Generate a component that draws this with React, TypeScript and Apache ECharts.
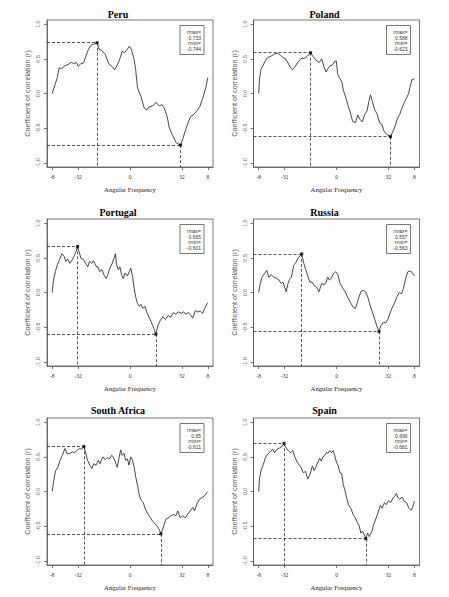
import React, { useEffect, useRef } from "react";
import * as echarts from "echarts";

// ---- data ----
const countries = ["Peru", "Poland", "Portugal", "Russia", "South Africa", "Spain"];

const xTickValues = [-3, -2, 0, 2, 3];
const xTickLabels = ["-8", "-32", "0", "32", "8"];
const yTickValues = [-1, -0.5, 0, 0.5, 1];

const peru: [number, number][] = [
  [-3.0, 0.0], [-2.87, 0.15], [-2.81, 0.22], [-2.73, 0.37], [-2.64, 0.36], [-2.51, 0.4], [-2.38, 0.42],
  [-2.27, 0.45], [-2.16, 0.43], [-2.08, 0.45], [-1.99, 0.39], [-1.9, 0.43], [-1.79, 0.44], [-1.69, 0.55],
  [-1.6, 0.64], [-1.47, 0.71], [-1.4, 0.71], [-1.27, 0.733], [-1.19, 0.64], [-1.08, 0.62], [-0.95, 0.56],
  [-0.82, 0.43], [-0.69, 0.39], [-0.6, 0.34], [-0.49, 0.41], [-0.39, 0.5], [-0.3, 0.61], [-0.21, 0.59],
  [-0.1, 0.64], [-0.03, 0.68], [0.05, 0.64], [0.16, 0.49], [0.22, 0.34], [0.29, 0.08], [0.42, -0.04],
  [0.55, -0.21], [0.65, -0.24], [0.74, -0.19], [0.87, -0.18], [1.0, -0.13], [1.13, -0.18], [1.23, -0.16],
  [1.32, -0.21], [1.43, -0.33], [1.52, -0.5], [1.65, -0.61], [1.78, -0.71], [1.95, -0.744], [2.04, -0.65],
  [2.14, -0.53], [2.23, -0.43], [2.34, -0.33], [2.43, -0.31], [2.56, -0.26], [2.69, -0.19], [2.82, -0.05],
  [2.92, 0.08], [3.0, 0.23],
];

const poland: [number, number][] = [
  [-3.0, 0.0], [-2.97, 0.21], [-2.91, 0.35], [-2.84, 0.4], [-2.75, 0.47], [-2.65, 0.52], [-2.52, 0.54],
  [-2.39, 0.57], [-2.26, 0.58], [-2.16, 0.55], [-2.06, 0.52], [-1.96, 0.5], [-1.87, 0.44], [-1.77, 0.37],
  [-1.7, 0.34], [-1.61, 0.38], [-1.51, 0.44], [-1.38, 0.5], [-1.22, 0.51], [-1.12, 0.54], [-1.0, 0.588],
  [-0.9, 0.53], [-0.77, 0.47], [-0.66, 0.45], [-0.57, 0.5], [-0.48, 0.38], [-0.4, 0.31], [-0.34, 0.35],
  [-0.25, 0.4], [-0.16, 0.41], [-0.08, 0.46], [-0.01, 0.47], [0.05, 0.27], [0.14, 0.21], [0.21, 0.16],
  [0.27, 0.04], [0.36, -0.06], [0.44, -0.17], [0.53, -0.27], [0.62, -0.4], [0.73, -0.42], [0.82, -0.31],
  [0.9, -0.37], [0.99, -0.41], [1.09, -0.3], [1.18, -0.25], [1.25, -0.11], [1.31, -0.02], [1.38, -0.11],
  [1.47, -0.23], [1.57, -0.3], [1.66, -0.42], [1.74, -0.44], [1.83, -0.54], [1.94, -0.59], [2.08, -0.623],
  [2.16, -0.56], [2.26, -0.47], [2.35, -0.36], [2.44, -0.3], [2.55, -0.18], [2.68, -0.08], [2.78, 0.0],
  [2.84, 0.1], [2.91, 0.2], [3.0, 0.21],
];

const portugal: [number, number][] = [
  [-3.0, 0.0], [-2.95, 0.18], [-2.88, 0.3], [-2.8, 0.4], [-2.71, 0.48], [-2.62, 0.56], [-2.54, 0.52],
  [-2.48, 0.45], [-2.39, 0.48], [-2.32, 0.42], [-2.23, 0.47], [-2.15, 0.53], [-2.09, 0.58], [-2.02, 0.665],
  [-1.95, 0.57], [-1.89, 0.49], [-1.8, 0.48], [-1.71, 0.42], [-1.63, 0.37], [-1.56, 0.45], [-1.47, 0.42],
  [-1.41, 0.46], [-1.31, 0.38], [-1.24, 0.37], [-1.17, 0.3], [-1.08, 0.33], [-1.0, 0.25], [-0.92, 0.2],
  [-0.84, 0.27], [-0.78, 0.35], [-0.69, 0.42], [-0.62, 0.49], [-0.56, 0.56], [-0.52, 0.4], [-0.45, 0.33],
  [-0.39, 0.37], [-0.32, 0.25], [-0.26, 0.2], [-0.19, 0.28], [-0.1, 0.24], [-0.03, 0.3], [0.03, 0.35],
  [0.1, 0.23], [0.16, 0.06], [0.23, -0.08], [0.29, -0.16], [0.36, -0.2], [0.42, -0.17], [0.49, -0.23],
  [0.58, -0.2], [0.66, -0.3], [0.75, -0.37], [0.86, -0.46], [0.92, -0.52], [1.0, -0.601], [1.08, -0.47],
  [1.17, -0.4], [1.27, -0.35], [1.37, -0.39], [1.47, -0.33], [1.56, -0.36], [1.67, -0.29], [1.77, -0.31],
  [1.86, -0.28], [1.97, -0.3], [2.06, -0.28], [2.16, -0.31], [2.25, -0.29], [2.35, -0.33], [2.42, -0.37],
  [2.52, -0.26], [2.61, -0.28], [2.71, -0.27], [2.8, -0.3], [2.88, -0.23], [2.97, -0.16], [3.0, -0.15],
];

const russia: [number, number][] = [
  [-3.0, 0.0], [-2.94, 0.13], [-2.87, 0.22], [-2.78, 0.27], [-2.69, 0.32], [-2.61, 0.22], [-2.52, 0.26],
  [-2.42, 0.22], [-2.32, 0.21], [-2.22, 0.18], [-2.13, 0.13], [-2.06, 0.15], [-2.0, 0.08], [-1.94, 0.01],
  [-1.87, 0.13], [-1.81, 0.19], [-1.74, 0.22], [-1.65, 0.39], [-1.57, 0.43], [-1.48, 0.5], [-1.4, 0.53],
  [-1.34, 0.557], [-1.26, 0.42], [-1.18, 0.32], [-1.09, 0.22], [-1.03, 0.15], [-0.94, 0.15], [-0.86, 0.1],
  [-0.77, 0.08], [-0.68, 0.01], [-0.57, 0.13], [-0.48, 0.11], [-0.4, 0.15], [-0.34, 0.22], [-0.27, 0.18],
  [-0.21, 0.2], [-0.12, 0.27], [-0.03, 0.3], [0.05, 0.26], [0.14, 0.13], [0.23, 0.07], [0.34, 0.01],
  [0.43, -0.07], [0.53, -0.14], [0.64, -0.21], [0.73, -0.23], [0.79, -0.16], [0.86, -0.07], [0.95, 0.02],
  [1.03, 0.03], [1.12, 0.01], [1.21, -0.07], [1.29, -0.18], [1.38, -0.28], [1.47, -0.38], [1.55, -0.48],
  [1.64, -0.563], [1.71, -0.48], [1.81, -0.43], [1.9, -0.44], [1.99, -0.38], [2.08, -0.28], [2.16, -0.21],
  [2.25, -0.14], [2.32, -0.07], [2.42, 0.0], [2.51, -0.02], [2.58, 0.06], [2.68, 0.22], [2.75, 0.3],
  [2.83, 0.31], [2.91, 0.29], [3.0, 0.24],
];

const southAfrica: [number, number][] = [
  [-3.0, 0.0], [-2.94, 0.16], [-2.87, 0.3], [-2.78, 0.35], [-2.7, 0.45], [-2.61, 0.52], [-2.51, 0.62],
  [-2.42, 0.54], [-2.32, 0.55], [-2.22, 0.57], [-2.13, 0.56], [-2.03, 0.6], [-1.94, 0.62], [-1.86, 0.61],
  [-1.78, 0.65], [-1.7, 0.55], [-1.64, 0.45], [-1.55, 0.38], [-1.47, 0.33], [-1.4, 0.4], [-1.31, 0.38],
  [-1.22, 0.45], [-1.16, 0.4], [-1.05, 0.5], [-0.96, 0.46], [-0.88, 0.49], [-0.79, 0.47], [-0.71, 0.52],
  [-0.64, 0.5], [-0.57, 0.43], [-0.49, 0.35], [-0.43, 0.47], [-0.36, 0.6], [-0.3, 0.52], [-0.23, 0.55],
  [-0.17, 0.45], [-0.1, 0.47], [-0.04, 0.38], [0.03, 0.5], [0.09, 0.46], [0.16, 0.35], [0.22, 0.21],
  [0.29, 0.09], [0.35, -0.04], [0.42, -0.12], [0.51, -0.16], [0.6, -0.26], [0.7, -0.33], [0.79, -0.38],
  [0.87, -0.43], [0.96, -0.46], [1.05, -0.5], [1.13, -0.55], [1.19, -0.611], [1.29, -0.51], [1.38, -0.4],
  [1.48, -0.38], [1.58, -0.35], [1.68, -0.33], [1.77, -0.35], [1.84, -0.28], [1.94, -0.38], [2.03, -0.35],
  [2.13, -0.38], [2.22, -0.33], [2.32, -0.28], [2.42, -0.23], [2.49, -0.28], [2.58, -0.18], [2.68, -0.11],
  [2.78, -0.09], [2.87, -0.06], [3.0, 0.0],
];

const spain: [number, number][] = [
  [-3.0, 0.0], [-2.97, 0.18], [-2.91, 0.3], [-2.82, 0.39], [-2.74, 0.49], [-2.65, 0.54], [-2.54, 0.58],
  [-2.45, 0.61], [-2.39, 0.56], [-2.29, 0.61], [-2.19, 0.63], [-2.1, 0.65], [-2.02, 0.696], [-1.96, 0.64],
  [-1.86, 0.59], [-1.77, 0.56], [-1.69, 0.59], [-1.6, 0.49], [-1.51, 0.42], [-1.45, 0.39], [-1.37, 0.35],
  [-1.28, 0.27], [-1.19, 0.29], [-1.11, 0.18], [-1.04, 0.23], [-0.98, 0.3], [-0.93, 0.37], [-0.86, 0.3],
  [-0.8, 0.35], [-0.72, 0.42], [-0.65, 0.48], [-0.59, 0.44], [-0.52, 0.5], [-0.46, 0.52], [-0.39, 0.56],
  [-0.33, 0.55], [-0.26, 0.59], [-0.2, 0.56], [-0.13, 0.59], [-0.07, 0.52], [0.0, 0.42], [0.07, 0.37],
  [0.13, 0.27], [0.2, 0.26], [0.26, 0.1], [0.33, 0.01], [0.39, -0.09], [0.46, -0.19], [0.55, -0.24],
  [0.64, -0.33], [0.72, -0.38], [0.81, -0.45], [0.87, -0.49], [0.94, -0.6], [1.0, -0.57], [1.07, -0.62],
  [1.13, -0.681], [1.2, -0.6], [1.26, -0.65], [1.36, -0.58], [1.43, -0.48], [1.53, -0.38], [1.62, -0.28],
  [1.69, -0.2], [1.76, -0.24], [1.85, -0.16], [1.92, -0.19], [2.01, -0.13], [2.09, -0.16], [2.18, -0.09],
  [2.24, -0.07], [2.31, -0.03], [2.37, -0.09], [2.44, -0.11], [2.53, -0.08], [2.61, -0.14], [2.7, -0.16],
  [2.79, -0.24], [2.87, -0.27], [2.93, -0.24], [3.0, -0.14],
];

const panelData = [peru, poland, portugal, russia, southAfrica, spain];

// ---- layout ----
const X_MIN = -3.2;
const X_MAX = 3.2;
const Y_MIN = -1.06;
const Y_MAX = 1.06;
const COL_LEFT = [47, 253.5];
const ROW_TOP = [20, 219, 418];
const TITLE_X = [118, 324.5];
const TITLE_Y = [14, 212.5, 410.5];
const W = 166;
const H = 147;

const SERIF = '"Liberation Serif", "DejaVu Serif", serif';
const SANS = '"Liberation Sans", Arial, sans-serif';

export default function App() {
  const ref = useRef<HTMLDivElement>(null);

  useEffect(() => {
    if (!ref.current) return;
    const chart = echarts.init(ref.current, null, { renderer: "svg" });

    const grids: any[] = [];
    const xAxes: any[] = [];
    const yAxes: any[] = [];
    const series: any[] = [];
    const graphics: any[] = [];

    panelData.forEach((pts, i) => {
      const c = i % 2;
      const r = Math.floor(i / 2);
      const left = COL_LEFT[c];
      const top = ROW_TOP[r];

      grids.push({
        left,
        top,
        width: W,
        height: H,
        show: true,
        borderColor: "#555",
        borderWidth: 0.8,
        backgroundColor: "transparent",
      });

      xAxes.push({
        gridIndex: i,
        type: "value",
        min: X_MIN,
        max: X_MAX,
        splitLine: { show: false },
        axisLine: { show: true, onZero: false, lineStyle: { color: "#555", width: 0.8 } },
        axisTick: { show: true, length: 3, customValues: xTickValues, lineStyle: { color: "#555", width: 0.8 } },
        axisLabel: {
          customValues: xTickValues,
          formatter: (v: number) => {
            const k = xTickValues.indexOf(v);
            return k >= 0 ? xTickLabels[k] : "";
          },
          fontSize: 5.5,
          fontFamily: SERIF,
          color: "#333",
          margin: 7,
        },
        name: "Angular Frequency",
        nameLocation: "middle",
        nameGap: 19,
        nameTextStyle: { fontSize: 6.7, fontFamily: SERIF, color: "#222" },
      });

      yAxes.push({
        gridIndex: i,
        type: "value",
        min: Y_MIN,
        max: Y_MAX,
        splitLine: { show: false },
        axisLine: { show: true, onZero: false, lineStyle: { color: "#555", width: 0.8 } },
        axisTick: { show: true, length: 3, customValues: yTickValues, lineStyle: { color: "#555", width: 0.8 } },
        axisLabel: {
          customValues: yTickValues,
          rotate: 90,
          formatter: (v: number) => v.toFixed(1),
          fontSize: 5.5,
          fontFamily: SANS,
          color: "#666",
          margin: 6,
        },
        name: "Coefficient of correlation (r)",
        nameLocation: "middle",
        nameGap: 16,
        nameRotate: 90,
        nameTextStyle: { fontSize: 7.2, fontFamily: SANS, color: "#555" },
      });

      let iMax = 0;
      let iMin = 0;
      pts.forEach((p, j) => {
        if (p[1] > pts[iMax][1]) iMax = j;
        if (p[1] < pts[iMin][1]) iMin = j;
      });
      const pMax = pts[iMax];
      const pMin = pts[iMin];

      series.push({
        type: "line",
        xAxisIndex: i,
        yAxisIndex: i,
        data: pts,
        symbol: "none",
        showSymbol: false,
        silent: true,
        lineStyle: { color: "#333", width: 0.9 },
        z: 2,
      });

      series.push({
        type: "scatter",
        xAxisIndex: i,
        yAxisIndex: i,
        data: [pMax, pMin],
        symbol: "rect",
        symbolSize: 3,
        silent: true,
        itemStyle: { color: "#000" },
        z: 3,
        markLine: {
          silent: true,
          symbol: ["none", "none"],
          label: { show: false },
          lineStyle: { type: [3, 2], color: "#111", width: 0.7 },
          data: [
            [{ coord: [X_MIN, pMax[1]] }, { coord: [pMax[0], pMax[1]] }],
            [{ coord: [pMax[0], pMax[1]] }, { coord: [pMax[0], Y_MIN] }],
            [{ coord: [X_MIN, pMin[1]] }, { coord: [pMin[0], pMin[1]] }],
            [{ coord: [pMin[0], pMin[1]] }, { coord: [pMin[0], Y_MIN] }],
          ],
        },
      });

      // title
      graphics.push({
        type: "text",
        x: TITLE_X[c],
        y: TITLE_Y[r],
        silent: true,
        style: {
          text: countries[i],
          font: `bold 10px ${SERIF}`,
          fill: "#000",
          textAlign: "center",
          textVerticalAlign: "middle",
        },
      });

      // legend box
      const lx = left + W - 33;
      const ly = top + 5.5;
      graphics.push({
        type: "rect",
        silent: true,
        shape: { x: lx, y: ly, width: 24, height: 29 },
        style: { fill: "#fff", stroke: "#555", lineWidth: 0.8 },
      });
      const lines = ["rmax=", String(pMax[1]), "rmin=", String(pMin[1])];
      lines.forEach((t, k) => {
        graphics.push({
          type: "text",
          silent: true,
          x: lx + 21,
          y: ly + 6.5 + 5.6 * k,
          style: {
            text: t,
            font: `5px ${SANS}`,
            fill: "#333",
            textAlign: "right",
            textVerticalAlign: "middle",
          },
        });
      });
    });

    chart.setOption({
      animation: false,
      backgroundColor: "#fff",
      grid: grids,
      xAxis: xAxes,
      yAxis: yAxes,
      series,
      graphic: graphics,
    });

    return () => chart.dispose();
  }, []);

  return (
    <div
      ref={ref}
      style={{ position: "fixed", left: 0, top: 0, width: 449, height: 597, background: "#fff" }}
    />
  );
}
